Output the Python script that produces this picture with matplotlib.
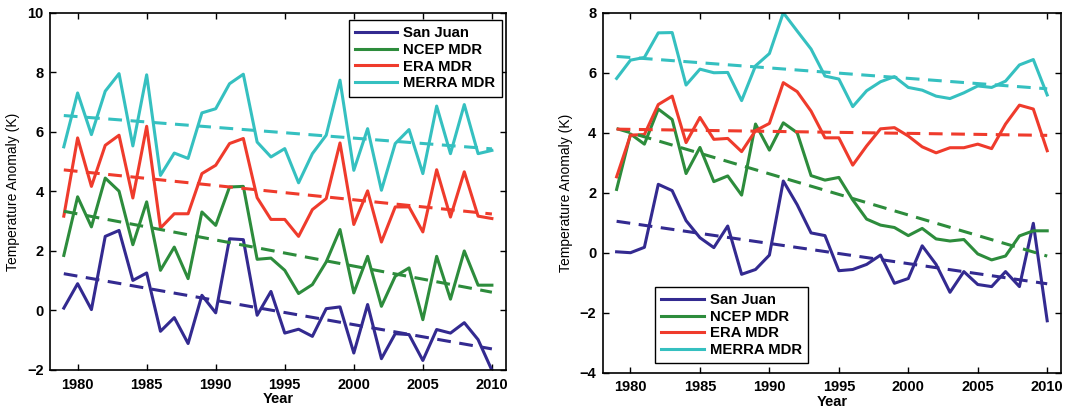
import numpy as np
import matplotlib
matplotlib.use("Agg")
import matplotlib.pyplot as plt

years = list(range(1979, 2011))

# Left panel
left_sanjuan = [0.08, 0.90, 0.03, 2.49, 2.69, 1.01, 1.26, -0.70, -0.24, -1.11, 0.51, -0.08,
                2.41, 2.38, -0.16, 0.64, -0.76, -0.63, -0.87, 0.06, 0.12, -1.43, 0.20, -1.62,
                -0.78, -0.81, -1.68, -0.64, -0.76, -0.41, -0.98, -2.01]
left_ncep = [1.85, 3.82, 2.81, 4.45, 4.01, 2.21, 3.65, 1.35, 2.13, 1.07, 3.31, 2.86,
             4.15, 4.17, 1.72, 1.76, 1.35, 0.57, 0.87, 1.63, 2.72, 0.59, 1.82, 0.14,
             1.15, 1.43, -0.31, 1.82, 0.38, 2.00, 0.85, 0.85]
left_era = [3.17, 5.80, 4.17, 5.55, 5.89, 3.78, 6.19, 2.77, 3.25, 3.25, 4.60, 4.88,
            5.61, 5.78, 3.79, 3.06, 3.06, 2.49, 3.39, 3.76, 5.63, 2.89, 4.02, 2.30,
            3.48, 3.48, 2.64, 4.73, 3.14, 4.66, 3.17, 3.09]
left_merra = [5.50, 7.31, 5.91, 7.37, 7.96, 5.53, 7.92, 4.54, 5.29, 5.11, 6.64, 6.78,
              7.62, 7.94, 5.66, 5.16, 5.44, 4.29, 5.27, 5.89, 7.74, 4.71, 6.11, 4.04,
              5.61, 6.08, 4.60, 6.87, 5.27, 6.92, 5.27, 5.38]

# Right panel
right_sanjuan = [0.03, 0.00, 0.18, 2.28, 2.07, 1.07, 0.50, 0.17, 0.89, -0.72, -0.56, -0.08,
                 2.39, 1.60, 0.66, 0.57, -0.60, -0.56, -0.39, -0.08, -1.02, -0.86, 0.23, -0.39,
                 -1.32, -0.63, -1.06, -1.13, -0.63, -1.13, 0.98, -2.27]
right_ncep = [2.11, 3.96, 3.62, 4.79, 4.44, 2.64, 3.51, 2.37, 2.56, 1.92, 4.29, 3.42,
              4.33, 4.00, 2.57, 2.42, 2.51, 1.76, 1.12, 0.92, 0.84, 0.57, 0.81, 0.46,
              0.39, 0.44, -0.04, -0.24, -0.11, 0.56, 0.73, 0.73]
right_era = [2.53, 3.92, 3.94, 4.94, 5.22, 3.67, 4.51, 3.78, 3.81, 3.37, 4.07, 4.31,
             5.67, 5.37, 4.72, 3.83, 3.83, 2.92, 3.56, 4.13, 4.17, 3.89, 3.53, 3.33,
             3.50, 3.50, 3.62, 3.47, 4.29, 4.92, 4.79, 3.40]
right_merra = [5.81, 6.42, 6.51, 7.33, 7.34, 5.59, 6.12, 6.00, 6.01, 5.07, 6.23, 6.64,
               8.00, 7.39, 6.79, 5.89, 5.79, 4.87, 5.40, 5.70, 5.87, 5.51, 5.42, 5.22,
               5.14, 5.33, 5.56, 5.51, 5.72, 6.26, 6.44, 5.26]

labels = ["San Juan", "NCEP MDR", "ERA MDR", "MERRA MDR"]
colors = ["#332a90", "#2d8c3c", "#ef3b2c", "#35c0c0"]
left_yticks = [-2, 0, 2, 4, 6, 8, 10]
right_yticks = [-4, -2, 0, 2, 4, 6, 8]
xticks = [1980, 1985, 1990, 1995, 2000, 2005, 2010]

plt.rcParams['font.family'] = ['Liberation Sans', 'DejaVu Sans']

fig = plt.figure(figsize=(10.66, 4.09), dpi=100)
ax1 = fig.add_axes([0.0469, 0.0954, 0.4275, 0.873])
ax2 = fig.add_axes([0.5654, 0.0888, 0.4300, 0.880])

def panel(ax, series, yticks, legloc, bbox):
    x = np.array(years, dtype=float)
    handles = []
    for s, c, lab in zip(series, colors, labels):
        h, = ax.plot(x, s, color=c, lw=2.2, label=lab)
        handles.append(h)
    for s, c in zip(series, colors):
        p = np.polyfit(x, np.array(s), 1)
        ax.plot(x, np.polyval(p, x), color=c, lw=2.2, ls=(0, (4.5, 2.8)))
    ax.set_xlim(1978, 2011)
    ax.set_ylim(yticks[0], yticks[-1])
    ax.set_xticks(xticks)
    ax.set_yticks(yticks)
    ax.set_yticklabels([("\u2212" + str(-t)) if t < 0 else str(t) for t in yticks])
    ax.tick_params(direction='in', top=True, right=True, length=4, width=1,
                   labelsize=10.5)
    ax.tick_params(axis='x', pad=5.5)
    ax.tick_params(axis='y', pad=4.5)
    for lbl in ax.get_xticklabels() + ax.get_yticklabels():
        lbl.set_fontweight('bold')
    for sp in ax.spines.values():
        sp.set_linewidth(1.2)
    ax.set_xlabel("Year", fontsize=10.5, fontweight='bold', labelpad=0.5)
    ax.set_ylabel("Temperature Anomaly (K)", fontsize=10, fontweight='medium', labelpad=5)
    leg = ax.legend(handles=handles, loc=legloc, bbox_to_anchor=bbox, fancybox=False,
                    edgecolor='black', framealpha=1, fontsize=10.7, handlelength=2.85,
                    handletextpad=0.4, labelspacing=0.18, borderpad=0.42,
                    borderaxespad=0)
    leg.get_frame().set_linewidth(1.0)
    for t in leg.get_texts():
        t.set_fontweight('bold')

panel(ax1, [left_sanjuan, left_ncep, left_era, left_merra], left_yticks,
      'upper right', (0.991, 0.98))
panel(ax2, [right_sanjuan, right_ncep, right_era, right_merra], right_yticks,
      'lower left', (0.114, 0.026))

fig.savefig("out.png", dpi=100)
